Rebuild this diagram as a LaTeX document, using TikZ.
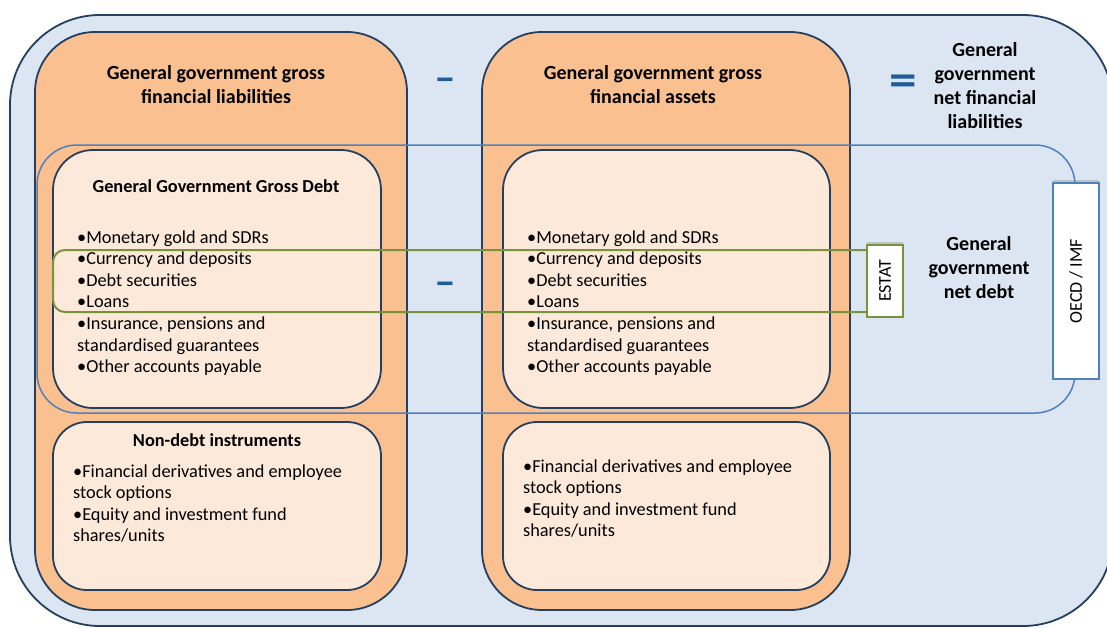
\documentclass[tikz,border=0pt]{standalone}
\usepackage{fontspec}
\usepackage{graphicx}
\setmainfont{Carlito}
\usetikzlibrary{shadows}
\definecolor{bgblue}{HTML}{DCE6F2}
\definecolor{navy}{HTML}{243F60}
\definecolor{orng}{HTML}{FAC090}
\definecolor{peach}{HTML}{FDE9D9}
\definecolor{lineblue}{HTML}{4F81BD}
\definecolor{grn}{HTML}{77933C}
\definecolor{signblue}{HTML}{1F5C99}
\newcommand{\blk}[2]{\begin{tabular}[t]{@{}#1@{}}#2\end{tabular}}
\begin{document}
\begin{tikzpicture}[x=1pt,y=-1pt,
  outerbox/.style={draw=navy, line width=1.8pt, fill=bgblue, rounded corners=90pt},
  orangebox/.style={draw=navy, line width=1.8pt, fill=orng, rounded corners=60pt},
  innerbox/.style={draw=navy, line width=1.8pt, fill=peach, rounded corners=40pt},
  nonbox/.style={draw=navy, line width=1.8pt, fill=peach, rounded corners=34pt},
  netdebt/.style={draw=lineblue, line width=1.5pt, rounded corners=40pt},
  estatline/.style={draw=grn, line width=2pt, rounded corners=12pt},
  tagbox/.style={fill=white, line width=2.5pt, inner sep=0pt,
     drop shadow={shadow xshift=0pt, shadow yshift=3pt, opacity=0.35, fill=gray}},
  titlefont/.style={font=\fontsize{20}{24}\selectfont\bfseries, inner sep=0pt},
  subfont/.style={font=\fontsize{18.3}{22}\selectfont\bfseries, inner sep=0pt},
  listfont/.style={font=\fontsize{18.3}{21.6}\selectfont, inner sep=0pt},
  sign/.style={font=\fontsize{34}{34}\selectfont\bfseries, text=signblue, inner sep=0pt},
  eqsign/.style={font=\fontsize{46}{46}\selectfont\bfseries, text=signblue, inner sep=0pt},
  tagfont/.style={font=\fontsize{18}{20}\selectfont, inner sep=0pt}
]
\useasboundingbox (0,0) rectangle (1107,627);

% outer frame
\node[outerbox, minimum width=1103pt, minimum height=611pt] (outer) at (561.5,320.5) {};

% orange columns
\node[orangebox, minimum width=372pt, minimum height=578pt] (liab) at (221,321) {};
\node[orangebox, minimum width=368pt, minimum height=578pt] (assets) at (666,321) {};

% inner boxes
\node[innerbox, minimum width=328pt, minimum height=258pt] (ldebt) at (217,279) {};
\node[nonbox, minimum width=328pt, minimum height=168pt] (lnon) at (217,506) {};
\node[innerbox, minimum width=327pt, minimum height=258pt] (adebt) at (666.5,279) {};
\node[nonbox, minimum width=327pt, minimum height=168pt] (anon) at (666.5,506) {};

% net debt frame (blue) and ESTAT frame (green)
\node[netdebt, minimum width=1038pt, minimum height=268pt] (netframe) at (556,279) {};
\node[estatline, minimum width=832pt, minimum height=62pt] (estatframe) at (469,281) {};

% titles
\node[titlefont, anchor=base] (t1) at (216,79) {\blk{c}{General government gross\\financial liabilities}};
\node[titlefont, anchor=base] (t2) at (653,79) {\blk{c}{General government gross\\financial assets}};
\node[titlefont, anchor=base] (t3) at (985,56) {\blk{c}{General\\government\\net financial\\liabilities}};
\node[titlefont, anchor=base] (t4) at (979,250) {\blk{c}{General\\government\\net debt}};

% signs
\node[sign] (minus1) at (445,84) {\scalebox{1.8}[1]{-}};
\node[sign] (minus2) at (445,288) {\scalebox{1.8}[1]{-}};
\node[eqsign] (equal) at (903,85) {\scalebox{1.2}[1]{=}};

% inner texts
\node[subfont, anchor=base] (s1) at (216,192) {General Government Gross Debt};
\node[subfont, anchor=base] (s2) at (217,446) {Non-debt instruments};

\node[listfont, anchor=base west] (l1) at (77,243) {\blk{l}{•Monetary gold and SDRs\\•Currency and deposits\\•Debt securities\\•Loans\\•Insurance, pensions and\\standardised guarantees\\•Other accounts payable}};
\node[listfont, anchor=base west] (l2) at (73,477) {\blk{l}{•Financial derivatives and employee\\stock options\\•Equity and investment fund\\shares/units}};
\node[listfont, anchor=base west] (r1) at (527,243) {\blk{l}{•Monetary gold and SDRs\\•Currency and deposits\\•Debt securities\\•Loans\\•Insurance, pensions and\\standardised guarantees\\•Other accounts payable}};
\node[listfont, anchor=base west] (r2) at (523,472) {\blk{l}{•Financial derivatives and employee\\stock options\\•Equity and investment fund\\shares/units}};

% tags
\node[tagbox, draw=grn, minimum width=36pt, minimum height=72pt] (estat) at (885,281) {};
\node[tagfont, rotate=90] (estattxt) at (estat.center) {ESTAT};
\node[tagbox, draw=lineblue, minimum width=46pt, minimum height=196pt] (oecd) at (1076,281) {};
\node[tagfont, rotate=90] (oecdtxt) at (oecd.center) {OECD / IMF};
\end{tikzpicture}
\end{document}
